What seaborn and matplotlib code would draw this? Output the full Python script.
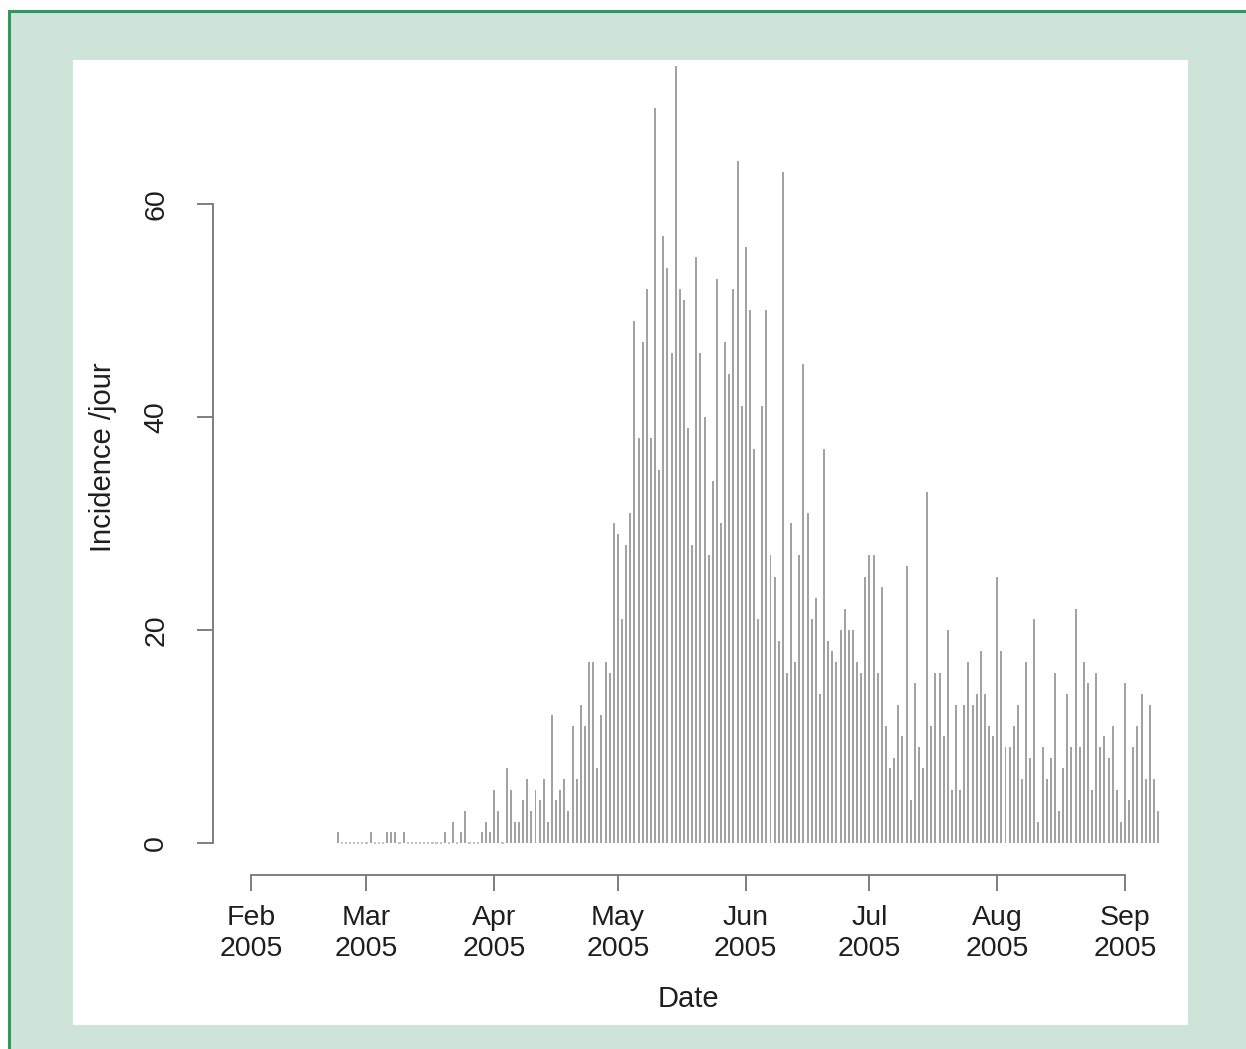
import numpy as np
import pandas as pd
import matplotlib
matplotlib.use("Agg")
import matplotlib.pyplot as plt
import matplotlib.dates as mdates
from matplotlib.patches import Rectangle
import seaborn as sns

# ---------------- data ----------------
first_day = "2005-02-22"
incidence = [
    1, 0, 0, 0, 0, 0, 0, 0,
    1, 0, 0, 0,
    1, 1, 1, 0, 1,
    0, 0, 0, 0, 0, 0, 0, 0, 0,
    1, 0, 2, 0, 1, 3,
    0, 0, 0,
    1, 2, 1, 5, 3, 0, 7, 5, 2, 2,
    4, 6, 3, 5, 4, 6, 2, 12, 4, 5,
    6, 3, 11, 6, 13, 11, 17, 17, 7, 12,
    17, 16, 30, 29, 21, 28, 31, 49, 38, 47,
    52, 38, 69, 35, 57, 54, 46, 73, 52, 51,
    39, 28, 55, 46, 40, 27, 34, 53, 30, 47,
    44, 52, 64, 41, 56, 50, 37, 21, 41, 50,
    27, 25, 19, 63, 16, 30, 17, 27, 45, 31,
    21, 23, 14, 37, 19, 18, 17, 20, 22, 20,
    20, 17, 16, 25, 27, 27, 16, 24, 11, 7,
    8, 13, 10, 26, 4, 15, 9, 7, 33, 11,
    16, 16, 10, 20, 5, 13, 5, 13, 17, 13,
    14, 18, 14, 11, 10, 25, 18, 9, 9, 11,
    13, 6, 17, 8, 21, 2, 9, 6, 8, 16,
    3, 7, 14, 9, 22, 9, 17, 15, 5, 16,
    9, 10, 8, 11, 5, 2, 15, 4, 9, 11,
    14, 6, 13, 6, 3,
]
month_ticks = ["2005-02-01", "2005-03-01", "2005-04-01", "2005-05-01",
               "2005-06-01", "2005-07-01", "2005-08-01", "2005-09-01"]
month_labels = ["Feb\n2005", "Mar\n2005", "Apr\n2005", "May\n2005",
                "Jun\n2005", "Jul\n2005", "Aug\n2005", "Sep\n2005"]
y_ticks = [0, 20, 40, 60]

dates = pd.date_range(first_day, periods=len(incidence), freq="D")
df = pd.DataFrame({"day": mdates.date2num(dates.to_pydatetime()),
                   "incidence": incidence})
zeros = df[df["incidence"] == 0]

# ---------------- style ----------------
sns.set_style("white")
plt.rcParams["font.family"] = ["Liberation Sans", "DejaVu Sans"]
text_col = "#1e1e1e"
axis_col = "#757575"

W, H = 1246, 1049
fig = plt.figure(figsize=(W / 100, H / 100), dpi=100)
fig.patch.set_facecolor("white")

# green frame and white panel (pixel geometry converted to figure fraction)
fig.add_artist(Rectangle((8.5 / W, -0.05), 1.1, (H - 10.5) / H + 0.05,
                         transform=fig.transFigure, facecolor="#cee4d8",
                         edgecolor="#2d995e", linewidth=2.2, zorder=-20))
fig.add_artist(Rectangle((73 / W, 1 - 1025 / H), (1188 - 73) / W, (1025 - 60) / H,
                         transform=fig.transFigure, facecolor="white",
                         edgecolor="none", zorder=-19))

ax_l, ax_r, ax_t, ax_b = 213, 1170, 60, 875
ax = fig.add_axes([ax_l / W, 1 - ax_b / H, (ax_r - ax_l) / W, (ax_b - ax_t) / H])
ax.set_facecolor("white")

sns.histplot(data=df, x="day", weights="incidence", discrete=True, shrink=0.48,
             color="#a2a2a2", edgecolor="none", linewidth=0, alpha=1, ax=ax)
sns.scatterplot(data=zeros, x="day", y="incidence", marker="s", s=2.5,
                color="#c4c4c4", edgecolor="none", linewidth=0, ax=ax, zorder=3)

base = mdates.date2num(pd.Timestamp("2005-02-01").to_pydatetime())
ax.set_xlim(base - 9.22, base + 222.9)
ax.set_ylim(-3.005, 73.52)

tick_pos = mdates.date2num(pd.to_datetime(month_ticks).to_pydatetime())
ax.set_xticks(tick_pos)
ax.set_xticklabels(month_labels, fontsize=20.5, color=text_col, linespacing=1.28)
ax.set_yticks(y_ticks)
ax.set_yticklabels([str(v) for v in y_ticks], fontsize=20.5, color=text_col,
                   rotation=90, va="center")

for s in ["top", "right"]:
    ax.spines[s].set_visible(False)
ax.spines["left"].set_bounds(0, 60)
ax.spines["bottom"].set_bounds(tick_pos[0], tick_pos[-1])
for s in ["left", "bottom"]:
    ax.spines[s].set_color(axis_col)
    ax.spines[s].set_linewidth(1.3)

ax.tick_params(axis="x", direction="out", length=11.5, width=1.3,
               color=axis_col, pad=10, bottom=True)
ax.tick_params(axis="y", direction="out", length=11.5, width=1.3,
               color=axis_col, pad=20, left=True)

ax.set_xlabel("Date", fontsize=21, color=text_col, va="center")
ax.xaxis.set_label_coords((688 - ax_l) / (ax_r - ax_l), (ax_b - 999) / (ax_b - ax_t))
ax.set_ylabel("Incidence /jour", fontsize=21, color=text_col, va="center")
ax.yaxis.set_label_coords((103 - ax_l) / (ax_r - ax_l), (ax_b - 457) / (ax_b - ax_t))

fig.savefig("out.png", dpi=100, facecolor=fig.get_facecolor())
